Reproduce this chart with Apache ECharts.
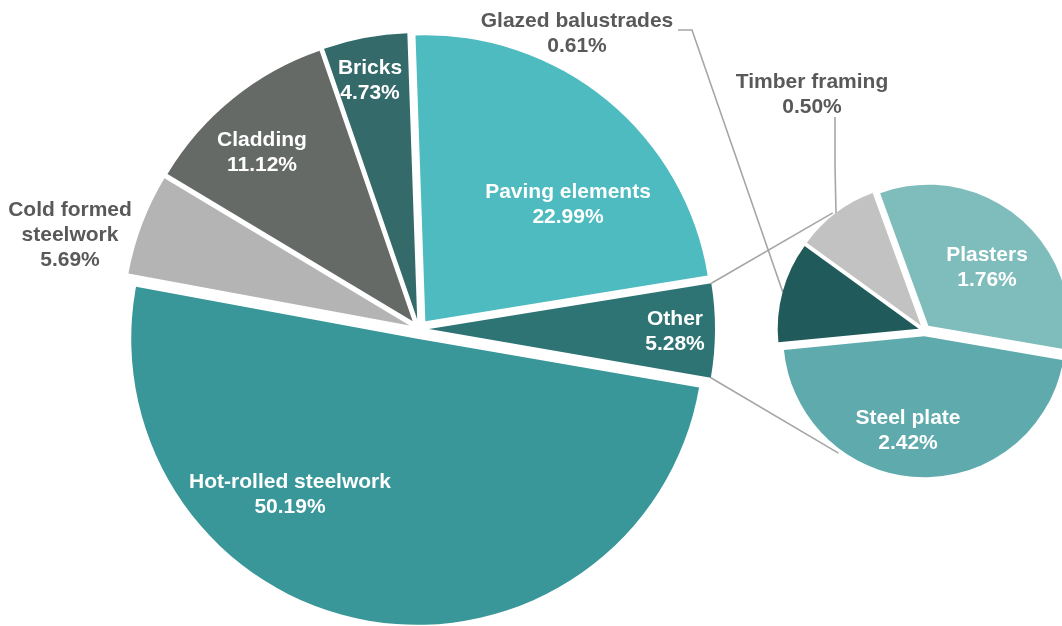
<!DOCTYPE html>
<html>
<head>
<meta charset="utf-8">
<script src="https://cdn.jsdelivr.net/npm/echarts@6/dist/echarts.min.js"></script>
<style>
  html, body { margin: 0; padding: 0; background: #fff; }
  #chart { width: 1062px; height: 626px; }
</style>
</head>
<body>
<div id="chart"></div>
<script>
const mainNames = ["Hot-rolled steelwork", "Cold formed steelwork", "Cladding", "Bricks", "Paving elements", "Other"];
const mainValues = [50.19, 5.69, 11.12, 4.73, 22.99, 5.28];
const subNames = ["Plasters", "Steel plate", "Glazed balustrades", "Timber framing"];
const subValues = [1.76, 2.42, 0.61, 0.50];

const mainColors = ["#399799", "#b3b4b3", "#666a67", "#356a6a", "#4dbbbf", "#2f7475"];
const subColors = ["#7fbcbc", "#5faaad", "#215a5b", "#c1c2c1"];

// geometry of the two pies (pixels / degrees)
const MAIN = { cx: 419, cy: 329, r: 286, gap: 10, start: -9.8 };
const SUB = { cx: 924.5, cy: 330.3, r: 141, gap: 6, start: 110 };

// where the labels sit (text block centres)
const labelPos = {
  "Hot-rolled steelwork": [290, 495],
  "Cold formed steelwork": [70, 235],
  "Cladding": [262, 153],
  "Bricks": [370, 81],
  "Paving elements": [568, 205],
  "Other": [675, 332],
  "Plasters": [987, 268],
  "Steel plate": [908, 431],
  "Glazed balustrades": [577, 34],
  "Timber framing": [812, 95]
};
const outsideLabels = ["Cold formed steelwork", "Glazed balustrades", "Timber framing"];

const FONT = "'Liberation Sans', Arial, sans-serif";
const LINE = "#a6a6a6";

function sliceAngles(values, start) {
  const total = values.reduce((a, b) => a + b, 0);
  let a = start;
  return values.map(v => {
    const a0 = a;
    const a1 = a - v / total * 360;
    a = a1;
    return { a0, a1, mid: (a0 + a1) / 2 };
  });
}

function pt(g, ang, rad, shiftAng, shift) {
  const k = Math.PI / 180;
  return [
    g.cx + rad * Math.cos(ang * k) + shift * Math.cos(shiftAng * k),
    g.cy - rad * Math.sin(ang * k) - shift * Math.sin(shiftAng * k)
  ];
}

const mainAng = sliceAngles(mainValues, MAIN.start);
const subAng = sliceAngles(subValues, SUB.start);

// exploded slices, no labels
function sliceData(names, values, colors) {
  return names.map((n, i) => ({
    name: n,
    value: values[i],
    selected: true,
    itemStyle: { color: colors[i] }
  }));
}

// invisible copy that carries the labels
function labelData(names, values) {
  return names.map((n, i) => {
    const out = outsideLabels.indexOf(n) >= 0;
    return {
      name: n,
      value: values[i],
      itemStyle: { color: "rgba(0,0,0,0)" },
      label: { color: out ? "#595959" : "#ffffff", position: out ? "outside" : "inside" },
      labelLine: { show: n === "Glazed balustrades" || n === "Timber framing" }
    };
  });
}

function layoutFor(geom, angs, names) {
  return function (params) {
    const name = names[params.dataIndex];
    const p = labelPos[name];
    const res = { x: p[0], y: p[1], align: "center", verticalAlign: "middle" };
    const a = angs[params.dataIndex];
    const start = pt(geom, a.mid, geom.r + geom.gap, a.mid, 0);
    if (name === "Glazed balustrades") {
      res.labelLinePoints = [start, [692, 30], [678, 30]];
    } else if (name === "Timber framing") {
      res.labelLinePoints = [start, [835, 165], [835, 117]];
    }
    return res;
  };
}

const labelStyle = {
  show: true,
  fontFamily: FONT,
  fontWeight: "bold",
  fontSize: 21,
  lineHeight: 25,
  formatter: p => p.name.replace("Cold formed ", "Cold formed\n") + "\n" + p.value.toFixed(2) + "%"
};

function slicesSeries(g, names, values, colors) {
  return {
    type: "pie",
    silent: true,
    center: [g.cx, g.cy],
    radius: g.r,
    startAngle: g.start,
    clockwise: true,
    selectedMode: "multiple",
    selectedOffset: g.gap,
    emphasis: { disabled: true },
    label: { show: false },
    labelLine: { show: false },
    data: sliceData(names, values, colors)
  };
}

function labelSeries(g, angs, names, values) {
  return {
    type: "pie",
    silent: true,
    center: [g.cx, g.cy],
    radius: g.r,
    startAngle: g.start,
    clockwise: true,
    avoidLabelOverlap: false,
    emphasis: { disabled: true },
    label: labelStyle,
    labelLine: { show: false, lineStyle: { color: LINE, width: 1.6 } },
    labelLayout: layoutFor(g, angs, names),
    data: labelData(names, values)
  };
}

// connector lines between "Other" and the secondary pie
const otherA = mainAng[5];
const otherTop = pt(MAIN, otherA.a0, MAIN.r, otherA.mid, MAIN.gap);
const otherBot = pt(MAIN, otherA.a1 + 360, MAIN.r, otherA.mid, MAIN.gap);
const subTop = pt(SUB, 128, SUB.r + 8, 0, 0);
const subBot = pt(SUB, -125, SUB.r + 9, 0, 0);

const chart = echarts.init(document.getElementById("chart"));
const option = {
  animation: false,
  graphic: [
    { type: "line", silent: true, shape: { x1: otherTop[0], y1: otherTop[1], x2: subTop[0], y2: subTop[1] },
      style: { stroke: LINE, lineWidth: 1.6 } },
    { type: "line", silent: true, shape: { x1: otherBot[0], y1: otherBot[1], x2: subBot[0], y2: subBot[1] },
      style: { stroke: LINE, lineWidth: 1.6 } }
  ],
  series: [
    slicesSeries(MAIN, mainNames, mainValues, mainColors),
    slicesSeries(SUB, subNames, subValues, subColors),
    labelSeries(MAIN, mainAng, mainNames, mainValues),
    labelSeries(SUB, subAng, subNames, subValues)
  ]
};
chart.setOption(option);
</script>
</body>
</html>
